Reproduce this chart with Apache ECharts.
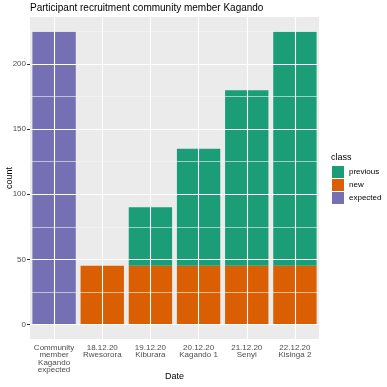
<!DOCTYPE html>
<html><head><meta charset="utf-8">
<script src="https://cdn.jsdelivr.net/npm/echarts@6/dist/echarts.min.js"></script>
<style>html,body{margin:0;padding:0;background:#fff}#c{width:387px;height:387px}</style>
</head><body><div id="c"></div>
<script>
const categories = ["Community\nmember\nKagando\nexpected", "18.12.20\nRwesorora", "19.12.20\nKiburara", "20.12.20\nKagando 1", "21.12.20\nSenyi", "22.12.20\nKisinga 2"];
const previousVals = [null, null, 45, 90, 135, 180];
const newVals = [null, 45, 45, 45, 45, 45];
const expectedVals = [225, null, null, null, null, null];
const yTicks = [0, 50, 100, 150, 200];
const yMinor = [25, 75, 125, 175, 225];
const yMin = -11.25, yMax = 236.25;
const FONT = "Liberation Sans, Arial, sans-serif";

const chart = echarts.init(document.getElementById('c'), null, {renderer: 'canvas'});
chart.setOption({
  animation: false,
  backgroundColor: '#ffffff',
  textStyle: {fontFamily: FONT},
  title: [
    {text: 'Participant recruitment community member Kagando', left: 30, top: 3, padding: 0,
     textStyle: {fontSize: 10, fontWeight: 'normal', color: '#000', fontFamily: FONT}},
    {text: 'class', left: 331, top: 153, padding: 0, textStyle: {fontSize: 9, fontWeight: 'normal', color: '#000', fontFamily: FONT}}
  ],
  legend: {
    data: ['previous', 'new', 'expected'],
    orient: 'vertical', left: 332, top: 166, itemWidth: 12, itemHeight: 12, itemGap: 1,
    icon: 'rect', padding: 0,
    textStyle: {fontSize: 8, color: '#000', fontFamily: FONT},
    itemStyle: {borderWidth: 0}
  },
  grid: {left: 30, right: 68, top: 17, bottom: 48, show: true, backgroundColor: '#EBEBEB', borderWidth: 0,
         outerBoundsMode: 'none', containLabel: false},
  xAxis: {
    type: 'category', data: categories,
    axisLine: {show: false},
    axisTick: {show: true, alignWithLabel: true, length: 3, lineStyle: {color: '#333'}},
    axisLabel: {fontSize: 8, color: '#4D4D4D', lineHeight: 7.5, margin: 5, interval: 0, fontFamily: FONT},
    splitLine: {show: false},
    name: 'Date', nameLocation: 'middle', nameGap: 33, nameMoveOverlap: false,
    nameTextStyle: {fontSize: 9, color: '#000', fontFamily: FONT}
  },
  yAxis: {
    type: 'value', min: yMin, max: yMax,
    axisLine: {show: false},
    axisTick: {show: true, length: 3, customValues: yTicks, lineStyle: {color: '#333'}},
    axisLabel: {fontSize: 8, color: '#4D4D4D', margin: 4, customValues: yTicks, fontFamily: FONT},
    splitLine: {show: false},
    name: 'count', nameLocation: 'middle', nameGap: 16, nameRotate: 90, nameMoveOverlap: false,
    nameTextStyle: {fontSize: 9, color: '#000', fontFamily: FONT}
  },
  series: [
    {type: 'line', data: [], z: 1, silent: true,
     markLine: {silent: true, symbol: 'none', label: {show: false}, animation: false,
       data: [
         ...yMinor.map(v => ({yAxis: v, lineStyle: {color: '#F5F5F5', width: 0.6, type: 'solid'}})),
         ...yTicks.map(v => ({yAxis: v, lineStyle: {color: '#FFFFFF', width: 1.1, type: 'solid'}})),
         ...categories.map(c => ({xAxis: c, lineStyle: {color: '#FFFFFF', width: 1.1, type: 'solid'}}))
       ]}},
    {name: 'new', type: 'bar', stack: 's', data: newVals, barCategoryGap: '10%', z: 2,
     itemStyle: {color: '#D95F02'}},
    {name: 'previous', type: 'bar', stack: 's', data: previousVals, barCategoryGap: '10%', z: 2,
     itemStyle: {color: '#1B9E77'}},
    {name: 'expected', type: 'bar', stack: 's', data: expectedVals, barCategoryGap: '10%', z: 2,
     itemStyle: {color: '#7570B3'}}
  ]
});
</script></body></html>
